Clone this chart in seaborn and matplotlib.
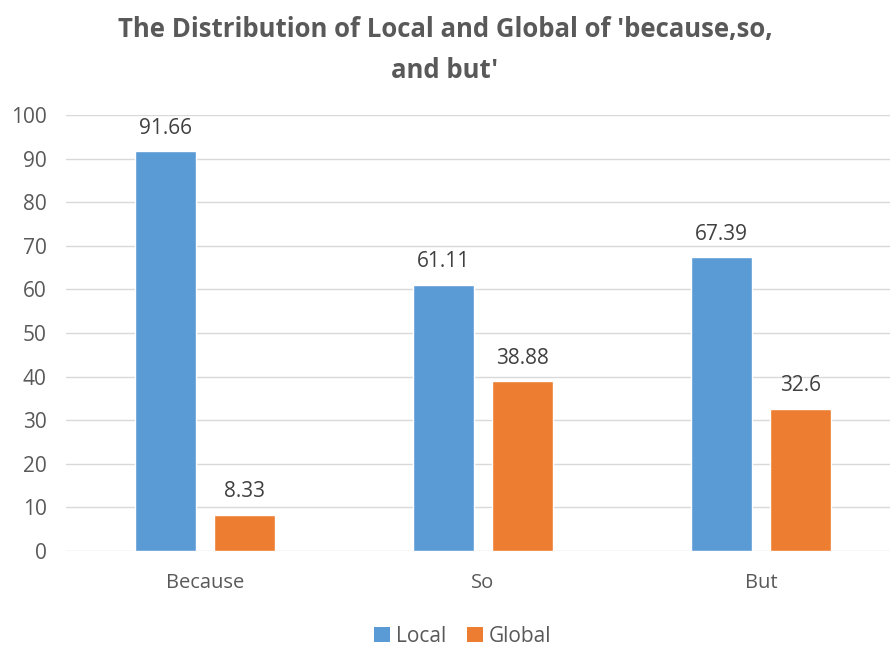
import matplotlib
matplotlib.use("Agg")
import matplotlib.pyplot as plt
import seaborn as sns
import pandas as pd
from matplotlib.patches import Patch

categories = ["Because", "So", "But"]
series = ["Local", "Global"]
local_vals = [91.66, 61.11, 67.39]
global_vals = [8.33, 38.88, 32.6]
local_labels = ["91.66", "61.11", "67.39"]
global_labels = ["8.33", "38.88", "32.6"]
yticks = [0, 10, 20, 30, 40, 50, 60, 70, 80, 90, 100]
title = "The Distribution of Local and Global of 'because,so,\nand but'"

colors = ["#5B9BD5", "#ED7D31"]
text_color = "#595959"

sns.set_theme(style="white")
plt.rcParams["font.family"] = ["Open Sans", "DejaVu Sans"]

df = pd.DataFrame({
    "category": categories * 2,
    "series": [series[0]] * 3 + [series[1]] * 3,
    "value": local_vals + global_vals,
})

fig = plt.figure(figsize=(8.9, 6.45), dpi=100)
ax = fig.add_axes([66 / 890, 94 / 645, 834 / 890, 436 / 645])

sns.barplot(data=df, x="category", y="value", hue="series", order=categories,
            hue_order=series, palette=colors, width=0.565, gap=0.223,
            ax=ax, legend=False, saturation=1)

ax.set_xlim(-0.5, 2.5)
ax.set_ylim(0, 100)
ax.set_yticks(yticks)
ax.yaxis.grid(True, color="#D9D9D9", linewidth=1)
ax.set_axisbelow(True)
for s in ax.spines.values():
    s.set_visible(False)
ax.set_xlabel("")
ax.set_ylabel("")
ax.tick_params(axis="y", length=0, labelsize=15, colors=text_color, pad=14)
ax.tick_params(axis="x", length=0, labelsize=14.5, colors=text_color, pad=16)

labels_all = [local_labels, global_labels]
for container, labs in zip(ax.containers, labels_all):
    ax.bar_label(container, labels=labs, padding=9, fontsize=15, color="#404040")

fig.text(445 / 890, 1 - 50 / 645, title, ha="center", va="center",
         fontsize=18.5, fontweight="bold", color=text_color, linespacing=1.65)

handles = [Patch(facecolor=c, edgecolor="none") for c in colors]
fig.legend(handles, series, loc="center", bbox_to_anchor=(463 / 890, 1 - 636 / 645),
           ncol=2, frameon=False, fontsize=15, handlelength=0.75, handleheight=0.75,
           handletextpad=0.3, columnspacing=1.0, labelcolor=text_color)

fig.savefig("out.png", dpi=100)
